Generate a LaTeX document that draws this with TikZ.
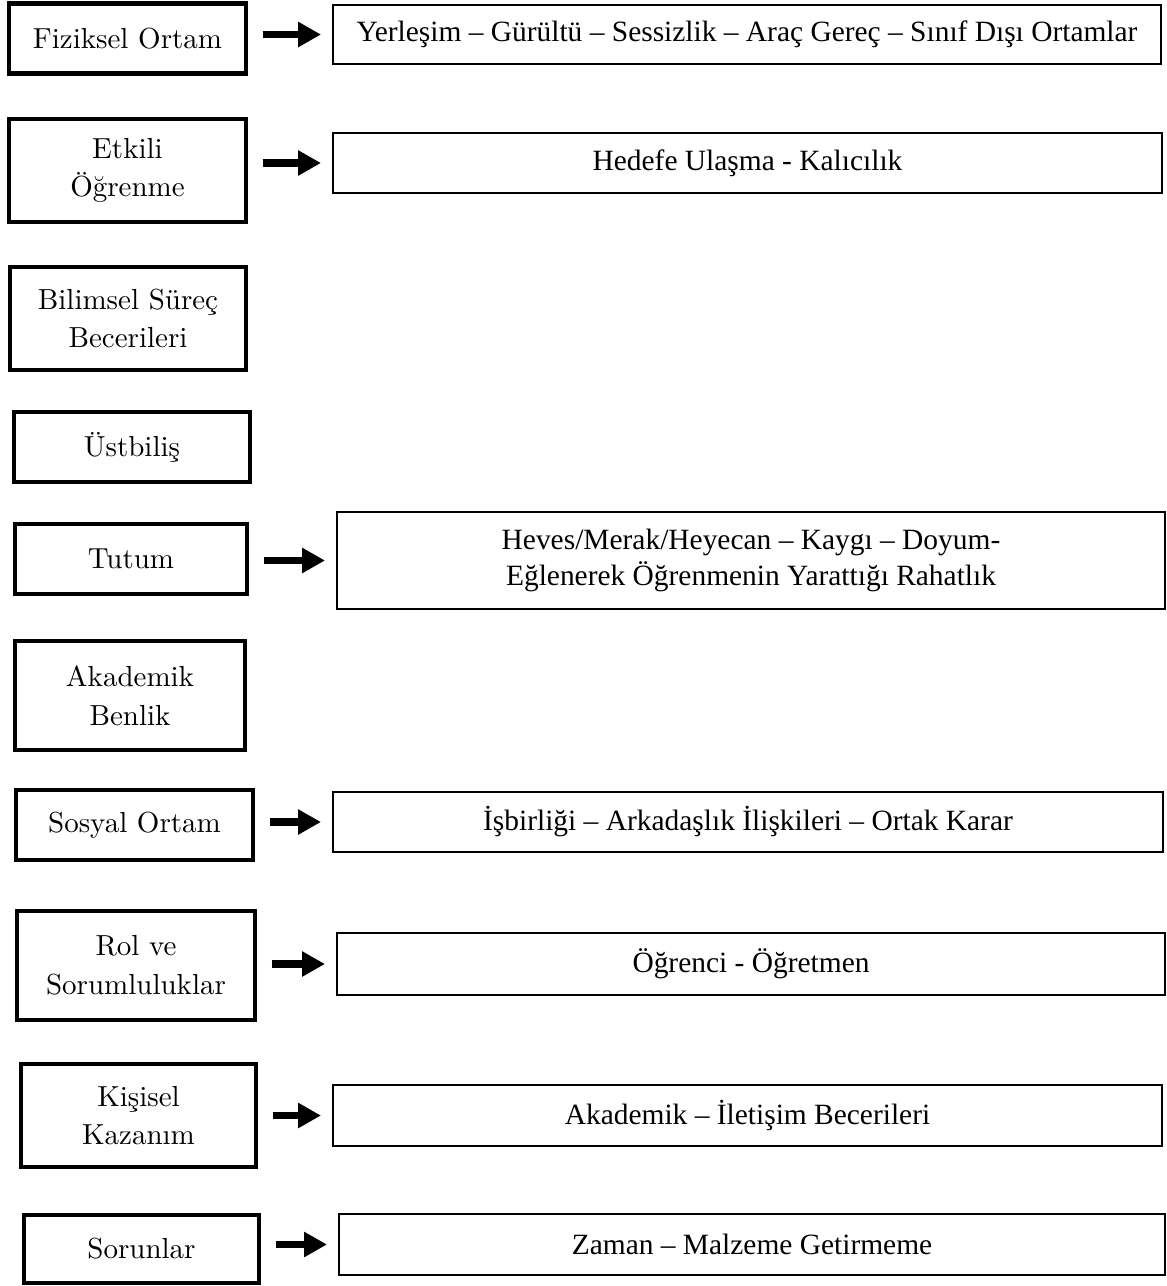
\documentclass[tikz,border=0pt]{standalone}
\usepackage{fontspec}
\newfontfamily\timesfont{Liberation Serif}
\newfontfamily\solfont[Extension=.otf]{lmroman10-regular}
\usetikzlibrary{arrows.meta}
\tikzset{
  ana/.style={draw, line width=2.8pt, inner sep=0pt, outer sep=0pt, align=center,
    font=\solfont\fontsize{16.5}{22}\selectfont},
  detay/.style={draw, line width=0.9pt, inner sep=0pt, outer sep=0pt, align=center,
    font=\timesfont\fontsize{16.75}{20}\selectfont},
  ok/.style={line width=4.5pt, -{Triangle[length=0.46cm,width=0.48cm]},
    shorten <=0.33cm, shorten >=0.24cm}
}
\begin{document}
\begin{tikzpicture}
   \useasboundingbox (0,0) rectangle (23.32,-25.72);
   % sol kutular
   \node[ana, minimum width=4.74cm, minimum height=1.40cm] (fiz) at (2.55,-0.77) {Fiziksel Ortam};
   \node[ana, minimum width=4.74cm, minimum height=2.06cm] (etk) at (2.55,-3.41) {Etkili\\Öğrenme};
   \node[ana, minimum width=4.72cm, minimum height=2.06cm] (bil) at (2.56,-6.37) {Bilimsel Süreç\\Becerileri};
   \node[ana, minimum width=4.72cm, minimum height=1.40cm] (ust) at (2.64,-8.94) {Üstbiliş};
   \node[ana, minimum width=4.64cm, minimum height=1.40cm] (tut) at (2.62,-11.18) {Tutum};
   \node[ana, minimum width=4.60cm, minimum height=2.18cm] (aka) at (2.60,-13.91) {Akademik\\Benlik};
   \node[ana, minimum width=4.74cm, minimum height=1.40cm] (sos) at (2.69,-16.50) {Sosyal Ortam};
   \node[ana, minimum width=4.76cm, minimum height=2.18cm] (rol) at (2.72,-19.31) {Rol ve\\Sorumluluklar};
   \node[ana, minimum width=4.70cm, minimum height=2.06cm] (kis) at (2.77,-22.31) {Kişisel\\Kazanım};
   \node[ana, minimum width=4.70cm, minimum height=1.36cm] (sor) at (2.83,-24.98) {Sorunlar};
   % sag kutular
   \node[detay, minimum width=16.56cm, minimum height=1.18cm] (fizd) at (14.94,-0.69) {Yerleşim – Gürültü – Sessizlik – Araç Gereç – Sınıf Dışı Ortamlar};
   \node[detay, minimum width=16.58cm, minimum height=1.20cm] (etkd) at (14.95,-3.26) {Hedefe Ulaşma - Kalıcılık};
   \node[detay, minimum width=16.56cm, minimum height=1.94cm] (tutd) at (15.02,-11.21) {Heves/Merak/Heyecan – Kaygı – Doyum-\\Eğlenerek Öğrenmenin Yarattığı Rahatlık};
   \node[detay, minimum width=16.60cm, minimum height=1.20cm] (sosd) at (14.96,-16.44) {İşbirliği – Arkadaşlık İlişkileri – Ortak Karar};
   \node[detay, minimum width=16.56cm, minimum height=1.24cm] (rold) at (15.02,-19.28) {Öğrenci - Öğretmen};
   \node[detay, minimum width=16.58cm, minimum height=1.22cm] (kisd) at (14.95,-22.31) {Akademik – İletişim Becerileri};
   \node[detay, minimum width=16.52cm, minimum height=1.22cm] (sord) at (15.04,-24.89) {Zaman – Malzeme Getirmeme};
   % oklar
   \foreach \a/\b in {fiz/fizd, etk/etkd, tut/tutd, sos/sosd, rol/rold, kis/kisd, sor/sord}
     \draw[ok] (\b.west -| \a.east) -- (\b.west);
\end{tikzpicture}
\end{document}
